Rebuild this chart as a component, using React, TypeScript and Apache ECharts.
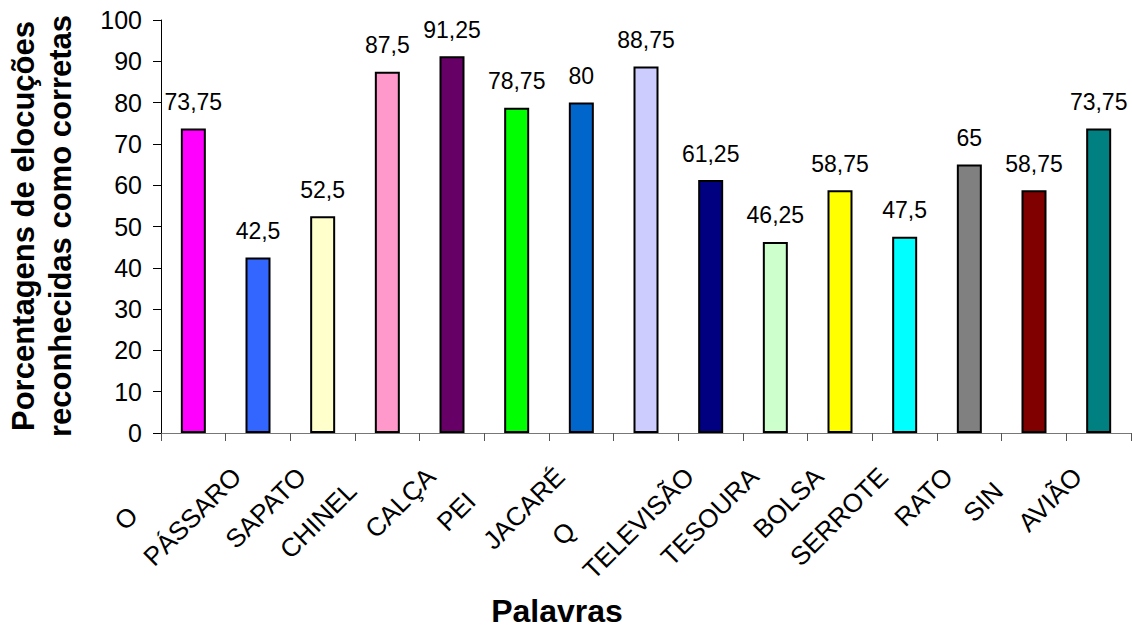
import React, { useEffect, useRef } from "react";
import * as echarts from "echarts";

const categories = [
  "OSSO", "PÁSSARO", "SAPATO", "CHINELO", "CALÇA", "PEIXE", "JACARÉ", "QUEIJO",
  "TELEVISÃO", "TESOURA", "BOLSA", "SERROTE", "RATO", "SINO", "AVIÃO",
];
// how many letters of each word remain visible (the rest is clipped in the original)
const visibleLetters = [1, 7, 6, 6, 5, 3, 6, 1, 9, 7, 5, 7, 4, 3, 5];
const values = [73.75, 42.5, 52.5, 87.5, 91.25, 78.75, 80, 88.75, 61.25, 46.25, 58.75, 47.5, 65, 58.75, 73.75];
const barColors = [
  "#FF00FF", "#3366FF", "#FFFFCC", "#FF99CC", "#660066", "#00FF00", "#0066CC", "#CCCCFF",
  "#000080", "#CCFFCC", "#FFFF00", "#00FFFF", "#808080", "#800000", "#008080",
];
const yMin = 0;
const yMax = 100;
const yInterval = 10;
const yTitle = "Porcentagens de elocuções\nreconhecidas como corretas";
const xTitle = "Palavras";

const FONT = "'Liberation Sans', Arial, Helvetica, sans-serif";
const VALUE_SIZE = 23;
const TICK_SIZE = 25;
const CAT_SIZE = 26;

function measure(text: string, font: string): number {
  const c = document.createElement("canvas");
  const ctx = c.getContext("2d");
  if (!ctx) return text.length * 14;
  ctx.font = font;
  return ctx.measureText(text).width;
}

export default function App() {
  const ref = useRef<HTMLDivElement>(null);

  useEffect(() => {
    document.body.style.margin = "0";
    if (!ref.current) return;
    const chart = echarts.init(ref.current, null, { renderer: "svg" });

    const rich: Record<string, any> = {};
    categories.forEach((w, i) => {
      const hidden = w.slice(visibleLetters[i]);
      const hw = hidden ? measure(hidden, `${CAT_SIZE}px ${FONT}`) : 0;
      rich["r" + i] = {
        fontSize: CAT_SIZE,
        fontFamily: FONT,
        color: "#000",
        padding: [0, 30 + hw, 0, 0],
      };
    });

    chart.setOption({
      animation: false,
      grid: { left: 161, right: 1, top: 20, bottom: 196, containLabel: false },
      xAxis: {
        type: "category",
        data: categories,
        boundaryGap: true,
        axisLine: { show: true, lineStyle: { color: "#777", width: 1 } },
        axisTick: { show: true, length: 8, inside: false, lineStyle: { color: "#555" } },
        axisLabel: {
          interval: 0,
          rotate: 45,
          margin: 18,
          formatter: (v: string, i: number) => `{r${i}|${v.slice(0, visibleLetters[i])}}`,
          rich,
        },
        splitLine: { show: false },
      },
      yAxis: {
        type: "value",
        min: yMin,
        max: yMax,
        interval: yInterval,
        axisLine: { show: true, lineStyle: { color: "#000", width: 1 } },
        axisTick: { show: true, length: 8, lineStyle: { color: "#000" } },
        axisLabel: { fontSize: TICK_SIZE, fontFamily: FONT, color: "#000", margin: 19 },
        splitLine: { show: false },
      },
      series: [
        {
          type: "bar",
          barWidth: 25,
          data: values.map((v, i) => ({
            value: v,
            itemStyle: { color: barColors[i], borderColor: "#000", borderWidth: 2 },
          })),
          label: {
            show: true,
            position: "top",
            distance: 15,
            fontSize: VALUE_SIZE,
            fontFamily: FONT,
            color: "#000",
            formatter: (p: any) => String(p.value).replace(".", ","),
          },
        },
      ],
      graphic: [
        {
          type: "text",
          x: 42,
          y: 226,
          rotation: Math.PI / 2,
          style: {
            text: yTitle,
            fontSize: 31,
            fontWeight: "bold",
            fontFamily: FONT,
            fill: "#000",
            align: "center",
            verticalAlign: "middle",
            lineHeight: 37,
          },
        },
        {
          type: "text",
          x: 557,
          y: 611,
          style: {
            text: xTitle,
            fontSize: 32,
            fontWeight: "bold",
            fontFamily: FONT,
            fill: "#000",
            align: "center",
            verticalAlign: "middle",
          },
        },
      ],
    });

    return () => chart.dispose();
  }, []);

  return <div ref={ref} style={{ width: 1132, height: 629 }} />;
}
